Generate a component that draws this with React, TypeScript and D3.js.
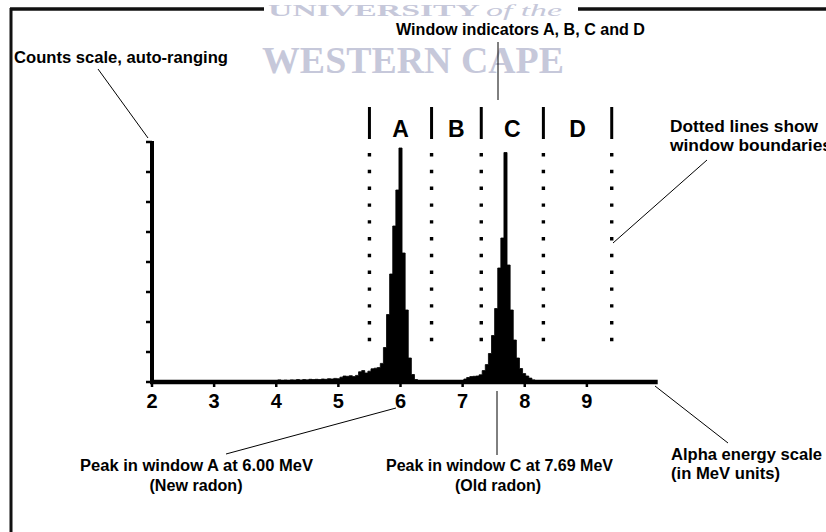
import React from "react";
import * as d3 from "d3";

// Alpha spectrum: energy bin centres (MeV) and counts per bin
const energyMeV = [
  3.95, 4.0, 4.05, 4.1, 4.15, 4.2, 4.25, 4.3, 4.35, 4.4, 4.45, 4.5, 4.55, 4.6, 4.65, 4.7, 4.75, 4.8,
  4.85, 4.9, 4.95, 5.0, 5.05, 5.1, 5.15, 5.2, 5.25, 5.3, 5.35, 5.4, 5.45, 5.5, 5.55, 5.6, 5.65, 5.7,
  5.75, 5.8, 5.85, 5.9, 5.95, 6.0, 6.05, 6.1, 6.15, 6.2, 6.25, 6.3, 7.0,
  7.04, 7.09, 7.14, 7.19, 7.24, 7.29, 7.34, 7.39, 7.44, 7.49, 7.54, 7.59, 7.64, 7.69, 7.74, 7.79,
  7.84, 7.89, 7.94, 7.99, 8.04, 8.09, 8.14, 8.19,
];
const counts = [
  0, 5, 7, 4, 6, 5, 7, 6, 8, 6, 8, 7, 9, 8, 9, 8, 10, 9,
  11, 10, 12, 11, 16, 20, 19, 21, 18, 22, 34, 38, 30, 36, 44, 46, 48, 62,
  115, 225, 360, 520, 640, 780, 430, 240, 80, 25, 8, 0, 0,
  10, 15, 18, 19, 20, 24, 38, 58, 95, 155, 245, 380, 480, 765, 390, 240,
  140, 80, 45, 28, 20, 13, 7, 0,
];

const energyTicks = [2, 3, 4, 5, 6, 7, 8, 9];
const countTicks = [0, 100, 200, 300, 400, 500, 600, 700, 800];
const windowEdges = [5.5, 6.5, 7.3, 8.3, 9.4];
const windowNames = ["A", "B", "C", "D"];

const W = 826;
const H = 532;

const noteFont = "'Liberation Sans Narrow', 'Arial Narrow', 'Liberation Sans', Arial, sans-serif";
const axisFont = "'Liberation Sans', Arial, Helvetica, sans-serif";
const markFont = "'Liberation Serif', 'DejaVu Serif', 'Times New Roman', serif";

export default function App() {
  const x = d3.scaleLinear().domain([2, 10]).range([152, 649]);
  const y = d3.scaleLinear().domain([0, 800]).range([382, 142]);

  const spectrum = energyMeV.map((e, i) => ({ e, c: counts[i] }));
  const area = d3
    .area<{ e: number; c: number }>()
    .x((d) => x(d.e))
    .y0(y(0))
    .y1((d) => y(d.c))
    .curve(d3.curveStep);

  const note = (
    text: string,
    tx: number,
    ty: number,
    len: number,
    anchor: "start" | "middle" = "start"
  ) => (
    <text
      x={tx}
      y={ty}
      textAnchor={anchor}
      fontFamily={noteFont}
      fontWeight="bold"
      fontSize={16}
      textLength={len}
      lengthAdjust="spacingAndGlyphs"
      fill="#000"
    >
      {text}
    </text>
  );

  return (
    <div style={{ position: "fixed", left: 0, top: 0, width: W, height: H, background: "#fff" }}>
      <svg width={W} height={H} viewBox={`0 0 ${W} ${H}`} style={{ display: "block" }}>
        <rect x={0} y={0} width={W} height={H} fill="#fff" />

        {/* frame */}
        <line x1={10} y1={9} x2={W} y2={9} stroke="#111" strokeWidth={3.5} />
        <line x1={11} y1={8} x2={11} y2={H} stroke="#111" strokeWidth={3} />

        {/* university mark */}
        <rect x={264} y={0} width={314} height={18} fill="#fff" />
        <g fill="#c6c8da" fontFamily={markFont}>
          <text x={268} y={15.5} fontSize={17} fontWeight="bold" textLength={212} lengthAdjust="spacingAndGlyphs">
            UNIVERSITY
          </text>
          <text x={486} y={15.5} fontSize={16} fontStyle="italic" textLength={76} lengthAdjust="spacingAndGlyphs">
            of the
          </text>
          <text x={262} y={73} fontSize={37} fontWeight="bold" textLength={302} lengthAdjust="spacingAndGlyphs">
            WESTERN CAPE
          </text>
        </g>

        {/* spectrum */}
        <path d={area(spectrum) ?? ""} fill="#000" stroke="#000" strokeWidth={0.8} />

        {/* window boundaries */}
        {windowEdges.map((e) => (
          <g key={`edge-${e}`}>
            <line x1={x(e)} x2={x(e)} y1={107} y2={139} stroke="#000" strokeWidth={3} />
            <line
              x1={x(e)}
              x2={x(e)}
              y1={153}
              y2={347}
              stroke="#000"
              strokeWidth={3.4}
              strokeDasharray="3.4 13.4"
            />
          </g>
        ))}
        {windowNames.map((n, i) => (
          <text
            key={n}
            x={(x(windowEdges[i]) + x(windowEdges[i + 1])) / 2}
            y={137}
            textAnchor="middle"
            fontFamily={axisFont}
            fontWeight="bold"
            fontSize={23}
          >
            {n}
          </text>
        ))}

        {/* counts axis */}
        <line x1={x(2)} x2={x(2)} y1={y(800) - 1} y2={y(0) + 2} stroke="#000" strokeWidth={4} />
        {countTicks.map((c) => (
          <line key={`ct-${c}`} x1={x(2) - 6} x2={x(2)} y1={y(c)} y2={y(c)} stroke="#000" strokeWidth={2.5} />
        ))}

        {/* energy axis */}
        <line x1={x(2) - 2} x2={x(10.14)} y1={y(0)} y2={y(0)} stroke="#000" strokeWidth={4.5} />
        {energyTicks.map((t) => (
          <g key={`et-${t}`}>
            <line x1={x(t)} x2={x(t)} y1={y(0)} y2={y(0) + 5} stroke="#000" strokeWidth={2.5} />
            <text
              x={x(t)}
              y={408}
              textAnchor="middle"
              fontFamily={axisFont}
              fontWeight="bold"
              fontSize={20}
            >
              {t}
            </text>
          </g>
        ))}

        {/* annotations */}
        <g stroke="#000" strokeWidth={1}>
          <line x1={98} y1={69} x2={148} y2={138} />
          <line x1={498} y1={42} x2={498} y2={100} />
          <line x1={707} y1={160} x2={613} y2={243} />
          <line x1={396} y1={408} x2={226} y2={454} />
          <line x1={497} y1={391} x2={497} y2={455} />
          <line x1={655} y1={386} x2={728} y2={443} />
        </g>
        {note("Counts scale, auto-ranging", 14, 63, 214)}
        {note("Window indicators A, B, C and D", 396, 35, 249)}
        {note("Dotted lines show", 670, 132, 148)}
        {note("window boundaries", 670, 151, 162)}
        {note("Peak in window A at 6.00 MeV", 80, 471, 233)}
        {note("(New radon)", 196, 491, 93, "middle")}
        {note("Peak in window C at 7.69 MeV", 386, 471, 227)}
        {note("(Old radon)", 498, 491, 86, "middle")}
        {note("Alpha energy scale", 671, 460, 151)}
        {note("(in MeV units)", 671, 479, 109)}
      </svg>
    </div>
  );
}
